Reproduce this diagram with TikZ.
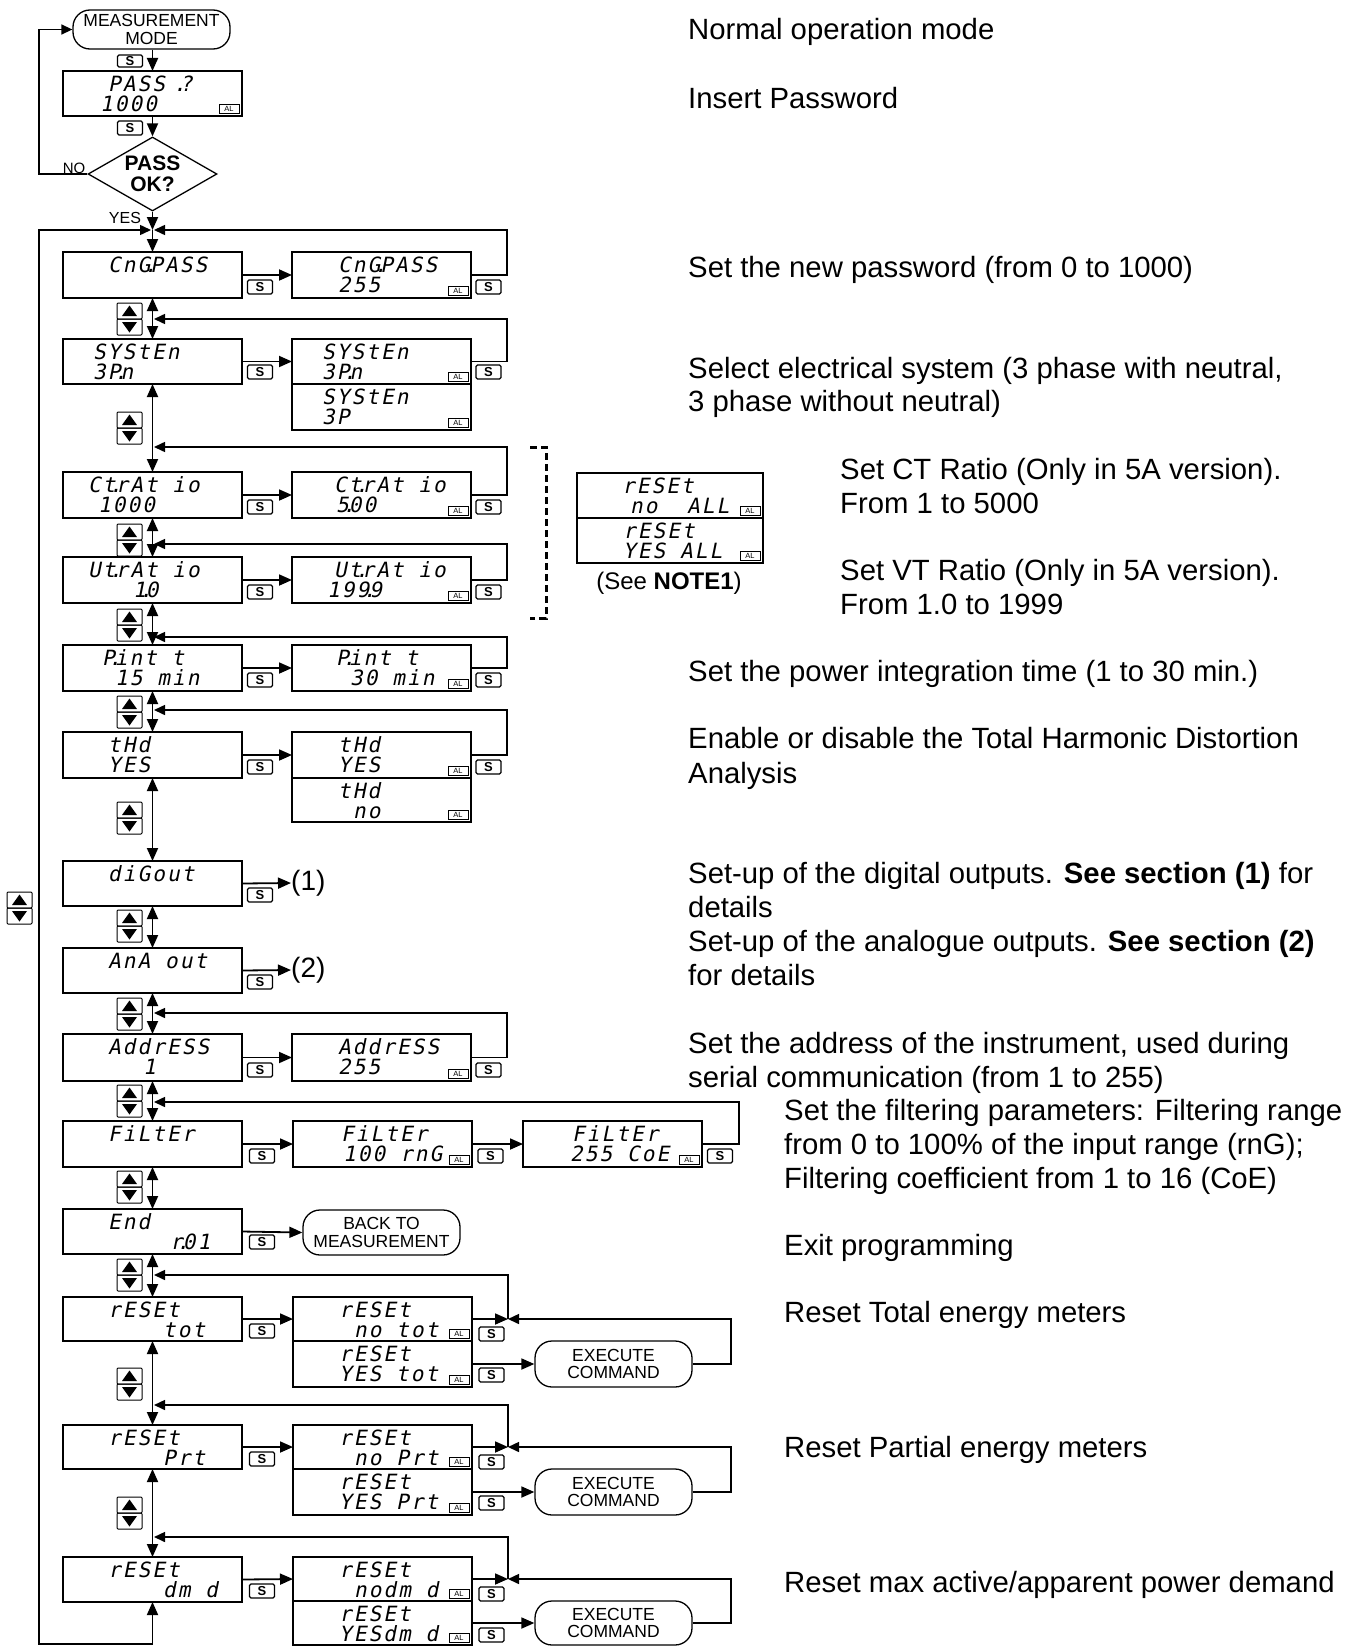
\documentclass[tikz,border=0pt]{standalone}
\usepackage{fontspec}
\setmainfont{Liberation Sans}
\newfontfamily\lcdfont[FakeSlant=0.2,LetterSpace=10]{DejaVu Sans Mono}
\usetikzlibrary{arrows.meta,shapes.geometric}
\newcommand{\dt}{\makebox[0pt][c]{.}}
\newcommand{\fs}[1]{\fontsize{#1}{#1}\selectfont}
\tikzset{
  Tr/.tip={Triangle[length=13pt,width=11pt]},
  TrS/.tip={Triangle[length=11pt,width=10pt]},
  disp/.style={draw, line width=1.3pt, inner sep=0pt, outer sep=0pt, anchor=north west},
  lcd/.style={font=\lcdfont\fs{21}, inner sep=0pt, anchor=base west},
  albox/.style={draw, line width=0.8pt, minimum width=20pt, minimum height=9pt, inner sep=0pt, font=\fs{7.5}},
  sbtn/.style={draw, line width=1.1pt, rounded corners=1.5pt, minimum width=25pt, minimum height=14pt, inner sep=0pt, font=\bfseries\fs{13}},
  ubtn/.style={draw, line width=1pt, rounded corners=1pt, minimum width=25pt, minimum height=16pt, inner sep=0pt},
  arr/.style={-Tr, line width=1.8pt},
  bi/.style={Tr-Tr, line width=1.8pt},
  fb/.style={-TrS, line width=1.5pt},
  note/.style={font=\fs{29.3}, inner sep=0pt, anchor=base west},
  term/.style={draw, line width=1.3pt, rounded corners=17pt, inner sep=0pt, align=center, font=\fs{17.5}, minimum width=157pt}
}
% name, x, y, w, h, off1, text1, off2, text2
\newcommand{\disp}[9]{%
  \node[disp, minimum width=#4pt, minimum height=#5pt] (#1) at (#2,#3) {};
  \node[lcd] (#1a) at (#2+#6,#3+20) {#7};
  \node[lcd] (#1b) at (#2+#8,#3+40.5) {#9};
}
\newcommand{\al}[1]{\node[albox] (#1al) at ([xshift=-13pt,yshift=7pt]#1.south east) {AL};}
\newcommand{\updown}[3]{%
  \node[ubtn] (#1u) at (#2+12.5,#3+8) {};
  \node[ubtn] (#1d) at (#2+12.5,#3+24) {};
  \fill (#2+12.5,#3+2.5) -- (#2+20,#3+13) -- (#2+5,#3+13) -- cycle;
  \fill (#2+12.5,#3+29.5) -- (#2+20,#3+19) -- (#2+5,#3+19) -- cycle;
}
\newcommand{\fback}[4]{%
  \coordinate (#4r) at (#2,#3); \coordinate (#4m) at (154,#3);
  \draw[fb] (#1.east) -| (#4r) -- (#4m);}
\begin{document}
\begin{tikzpicture}[x=1pt,y=-1pt]
\useasboundingbox (0,0) rectangle (1355,1646);
\fill[white] (0,0) rectangle (1355,1646);

% ---------- top ----------
\node[term, minimum height=39pt] (meas) at (151.5,29.5) {MEASUREMENT\\MODE};
\disp{pass}{63}{71}{179}{45}{45}{PASS \dt?}{37}{1000} \al{pass}
\node[draw, line width=1.3pt, shape=diamond, minimum width=129pt, minimum height=74pt, inner sep=0pt] (dia) at (152.5,174) {};
\node[font=\bfseries\fs{21}, align=center, inner sep=0pt] (diat) at (152.5,174) {PASS\\OK?};
\node[font=\fs{15}, inner sep=0pt] (nolab) at (74,168) {NO};
\node[font=\fs{16}, inner sep=0pt] (yeslab) at (125,218) {YES};
\node[sbtn, minimum height=12pt] (sa) at (130,61) {S};
\node[sbtn] (sb) at (130,128) {S};

% ---------- rows ----------
\disp{cng1}{63}{252}{179}{46}{45}{CnG\dt PASS}{45}{}
\disp{cng2}{292}{252}{179}{46}{46}{CnG\dt PASS}{46}{255} \al{cng2}
\node[sbtn] (s1) at (260,287) {S}; \node[sbtn] (s1b) at (488.5,287) {S};
\updown{u1}{117}{303}

\disp{sys1}{63}{339}{179}{45}{30}{SYStEn}{30}{3P\dt n}
\disp{sys2}{292}{339}{179}{45}{30}{SYStEn}{30}{3P\dt n} \al{sys2}
\disp{sys3}{292}{384}{179}{46}{30}{SYStEn}{30}{3P} \al{sys3}
\node[sbtn] (s2) at (260,372) {S}; \node[sbtn] (s2b) at (488.5,372) {S};
\updown{u2}{117}{412}

\disp{ct1}{63}{472}{179}{46}{25}{Ct\dt rAt io}{35}{1000}
\disp{ct2}{292}{472}{179}{46}{42}{Ct\dt rAt io}{44}{5\dt 00} \al{ct2}
\node[sbtn] (s3) at (260,507) {S}; \node[sbtn] (s3b) at (488.5,507) {S};
\updown{u3}{117}{524}

\disp{ut1}{63}{557}{179}{46}{25}{Ut\dt rAt io}{70}{1\dt 0}
\disp{ut2}{292}{557}{179}{46}{42}{Ut\dt rAt io}{35}{199\dt 9} \al{ut2}
\node[sbtn] (s4) at (260,592) {S}; \node[sbtn] (s4b) at (488.5,592) {S};
\updown{u4}{117}{609}

\disp{pint1}{63}{645}{179}{46}{39}{P\dt int t}{52}{15 min}
\disp{pint2}{292}{645}{179}{46}{44}{P\dt int t}{58}{30 min} \al{pint2}
\node[sbtn] (s5) at (260,680) {S}; \node[sbtn] (s5b) at (488.5,680) {S};
\updown{u5}{117}{696}

\disp{thd1}{63}{732}{179}{46}{45}{tHd}{45}{YES}
\disp{thd2}{292}{732}{179}{46}{46}{tHd}{46}{YES} \al{thd2}
\disp{thd3}{292}{778}{179}{44}{46}{tHd}{61}{no} \al{thd3}
\node[sbtn] (s6) at (260,767) {S}; \node[sbtn] (s6b) at (488.5,767) {S};
\updown{u6}{117}{802}

\disp{di1}{63}{861}{179}{45}{45}{diGout}{45}{}
\node[note, anchor=west, font=\fs{28}] (lab1) at (291,883) {(1)};
\node[sbtn] (s7) at (260,895) {S};
\updown{u7}{117}{910}

\disp{ana1}{63}{948}{179}{45}{45}{AnA out}{45}{}
\node[note, anchor=west, font=\fs{28}] (lab2) at (291,970) {(2)};
\node[sbtn] (s8) at (260,982) {S};
\updown{u8}{117}{998}

\disp{addr1}{63}{1034}{179}{47}{45}{AddrESS}{80}{1}
\disp{addr2}{292}{1034}{179}{47}{46}{AddrESS}{46}{255} \al{addr2}
\node[sbtn] (s9) at (260,1070) {S}; \node[sbtn] (s9b) at (488.5,1070) {S};
\updown{u9}{117}{1085}

\disp{fil1}{63}{1121}{179}{46}{45}{FiLtEr}{45}{}
\disp{fil2}{293}{1121}{179}{46}{48}{FiLtEr}{50}{100 rnG} \al{fil2}
\disp{fil3}{523}{1121}{179}{46}{49}{FiLtEr}{47}{255 CoE} \al{fil3}
\node[sbtn] (s10) at (262,1156) {S}; \node[sbtn] (s10b) at (490.5,1156) {S}; \node[sbtn] (s10c) at (720,1156) {S};
\updown{u10}{117}{1171}

\disp{end1}{63}{1209}{179}{45}{45}{End}{107}{r\dt 01}
\node[term, minimum height=45pt] (back) at (381.5,1232.5) {BACK TO\\MEASUREMENT};
\node[sbtn] (s11) at (262,1242) {S};
\updown{u11}{117}{1259}

\disp{tot1}{63}{1297}{179}{44}{45}{rESEt}{100}{tot}
\disp{tot2}{293}{1297}{179}{44}{46}{rESEt}{61}{no tot} \al{tot2}
\disp{tot3}{293}{1341}{179}{46}{46}{rESEt}{46}{YES tot} \al{tot3}
\node[term, minimum height=46pt] (exe1) at (613.5,1364) {EXECUTE\\COMMAND};
\node[sbtn] (s12) at (262,1331) {S}; \node[sbtn] (s12b) at (491.5,1334) {S}; \node[sbtn] (s12c) at (491.5,1375) {S};
\updown{u12}{117}{1368}

\disp{prt1}{63}{1425}{179}{44}{45}{rESEt}{100}{Prt}
\disp{prt2}{293}{1425}{179}{44}{46}{rESEt}{61}{no Prt} \al{prt2}
\disp{prt3}{293}{1469}{179}{46}{46}{rESEt}{46}{YES Prt} \al{prt3}
\node[term, minimum height=46pt] (exe2) at (613.5,1492) {EXECUTE\\COMMAND};
\node[sbtn] (s13) at (262,1459) {S}; \node[sbtn] (s13b) at (491.5,1462) {S}; \node[sbtn] (s13c) at (491.5,1503) {S};
\updown{u13}{117}{1497}

\disp{dmd1}{63}{1557}{179}{45}{45}{rESEt}{100}{dm d}
\disp{dmd2}{293}{1557}{179}{44}{46}{rESEt}{61}{nodm d} \al{dmd2}
\disp{dmd3}{293}{1601}{179}{44}{46}{rESEt}{46}{YESdm d} \al{dmd3}
\node[term, minimum height=44pt] (exe3) at (613.5,1623) {EXECUTE\\COMMAND};
\node[sbtn] (s14) at (262,1591) {S}; \node[sbtn] (s14b) at (491.5,1594) {S}; \node[sbtn] (s14c) at (491.5,1635) {S};

\updown{u0}{7}{892}

% reset all
\disp{all1}{577}{473}{186}{45}{45}{rESEt}{53}{no~~ALL} \al{all1}
\disp{all2}{577}{518}{186}{45}{46}{rESEt}{46}{YES ALL} \al{all2}
\node[font=\fs{24}, inner sep=0pt] (note1) at (669,583) {(See \textbf{NOTE1})};
\draw[line width=3pt, dash pattern=on 7pt off 4pt] (530,447) -- (546,447) -- (546,618) -- (530,618);

% ---------- connectors ----------
\coordinate (j0) at (152.5,230);
\coordinate (j0l) at (151,230);
\draw[arr] (meas.south -| pass.north) -- (pass.north);
\draw[arr] (pass.south) -- (dia.north);
\draw[arr] (dia.south) -- (j0);
\draw[arr] (j0) -- (cng1.north);
\coordinate (c1) at (39,174); \coordinate (c2) at (39,29.5);
\draw[fb] (dia.west) -- (c1) -- (c2) -- (meas.west);
\coordinate (b1) at (152.5,1644); \coordinate (b2) at (39,1644); \coordinate (b3) at (39,230);
\draw[fb] (b1) -- (b2) -- (b3) -- (j0l);
\draw[arr] (b1) -- (dmd1.south);

\draw[arr] (cng1.east) -- (cng2.west);
\fback{cng2}{507}{230}{f0}
\draw[bi] (cng1.south) -- (sys1.north);
\draw[arr] (sys1.east) -- (sys2.west);
\fback{sys2}{507}{319}{f1}
\draw[bi] (sys1.south) -- (ct1.north);
\draw[arr] (ct1.east) -- (ct2.west);
\fback{ct2}{507}{447}{f2}
\draw[bi] (ct1.south) -- (ut1.north);
\draw[arr] (ut1.east) -- (ut2.west);
\fback{ut2}{507}{544}{f3}
\draw[bi] (ut1.south) -- (pint1.north);
\draw[arr] (pint1.east) -- (pint2.west);
\fback{pint2}{507}{637}{f4}
\draw[bi] (pint1.south) -- (thd1.north);
\draw[arr] (thd1.east) -- (thd2.west);
\fback{thd2}{507}{710}{f5}
\draw[bi] (thd1.south) -- (di1.north);
\draw[arr] (di1.east) -- (lab1.west);
\draw[bi] (di1.south) -- (ana1.north);
\draw[arr] (ana1.east) -- (lab2.west);
\draw[bi] (ana1.south) -- (addr1.north);
\draw[arr] (addr1.east) -- (addr2.west);
\fback{addr2}{507}{1013}{f8}
\draw[bi] (addr1.south) -- (fil1.north);
\draw[arr] (fil1.east) -- (fil2.west);
\draw[arr] (fil2.east) -- (fil3.west);
\fback{fil3}{739}{1102}{f9}
\draw[bi] (fil1.south) -- (end1.north);
\draw[arr] (end1.east) -- (back.west);
\draw[bi] (end1.south) -- (tot1.north);

% reset tot
\coordinate (jt) at (508,1319); \coordinate (jtr) at (731,1319);
\coordinate (jtu) at (508,1275); \coordinate (jtm) at (154,1275);
\draw[arr] (tot1.east) -- (tot2.west);
\draw[arr] (tot2.east) -- (jt);
\draw[arr] (tot3.east) -- (exe1.west);
\draw[fb] (exe1.east) -| (jtr) -- (jt);
\draw[fb] (jt) -- (jtu) -- (jtm);
\draw[bi] (tot1.south) -- (prt1.north);
% reset prt
\coordinate (jp) at (508,1447); \coordinate (jpr) at (731,1447);
\coordinate (jpu) at (508,1405); \coordinate (jpm) at (154,1405);
\draw[arr] (prt1.east) -- (prt2.west);
\draw[arr] (prt2.east) -- (jp);
\draw[arr] (prt3.east) -- (exe2.west);
\draw[fb] (exe2.east) -| (jpr) -- (jp);
\draw[fb] (jp) -- (jpu) -- (jpm);
\draw[bi] (prt1.south) -- (dmd1.north);
% reset dmd
\coordinate (jd) at (508,1579); \coordinate (jdr) at (731,1579);
\coordinate (jdu) at (508,1537); \coordinate (jdm) at (154,1537);
\draw[arr] (dmd1.east) -- (dmd2.west);
\draw[arr] (dmd2.east) -- (jd);
\draw[arr] (dmd3.east) -- (exe3.west);
\draw[fb] (exe3.east) -| (jdr) -- (jd);
\draw[fb] (jd) -- (jdu) -- (jdm);

% ---------- notes ----------
\node[note] (n1) at (688,40) {Normal operation mode};
\node[note] (n2) at (688,108) {Insert Password};
\node[note] (n3) at (688,277) {Set the new password (from 0 to 1000)};
\node[note] (n4) at (688,378) {Select electrical system (3 phase with neutral,};
\node[note] (n5) at (688,411) {3 phase without neutral)};
\node[note] (n6) at (840,479) {Set CT Ratio (Only in 5A version).};
\node[note] (n7) at (840,513) {From 1 to 5000};
\node[note] (n8) at (840,580) {Set VT Ratio (Only in 5A version).};
\node[note] (n9) at (840,614) {From 1.0 to 1999};
\node[note] (n10) at (688,681) {Set the power integration time (1 to 30 min.)};
\node[note] (n11) at (688,748) {Enable or disable the Total Harmonic Distortion};
\node[note] (n12) at (688,783) {Analysis};
\node[note] (n13) at (688,883) {Set-up of the digital outputs. \textbf{See section (1)} for};
\node[note] (n14) at (688,917) {details};
\node[note] (n15) at (688,951) {Set-up of the analogue outputs. \textbf{See section (2)}};
\node[note] (n16) at (688,985) {for details};
\node[note] (n17) at (688,1053) {Set the address of the instrument, used during};
\node[note] (n18) at (688,1087) {serial communication (from 1 to 255)};
\node[note] (n19) at (784,1120) {Set the filtering parameters: Filtering range};
\node[note] (n20) at (784,1154) {from 0 to 100\% of the input range (rnG);};
\node[note] (n21) at (784,1188) {Filtering coefficient from 1 to 16 (CoE)};
\node[note] (n22) at (784,1255) {Exit programming};
\node[note] (n23) at (784,1322) {Reset Total energy meters};
\node[note] (n24) at (784,1457) {Reset Partial energy meters};
\node[note] (n25) at (784,1592) {Reset max active/apparent power demand};
\end{tikzpicture}
\end{document}
